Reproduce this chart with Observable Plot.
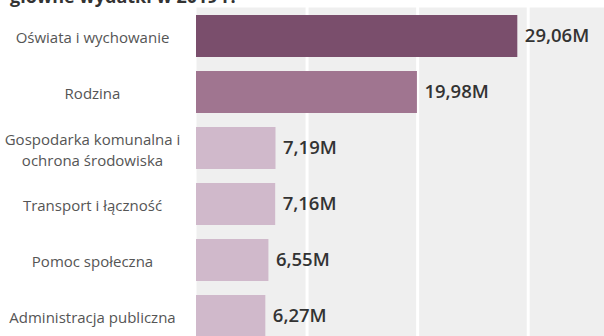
<!DOCTYPE html>
<html>
<head>
<meta charset="utf-8">
<script src="https://cdn.jsdelivr.net/npm/d3@7"></script>
<script src="https://cdn.jsdelivr.net/npm/@observablehq/plot@0.6"></script>
<style>
  html, body { margin: 0; padding: 0; background: #fff; overflow: hidden; width: 604px; height: 336px; }
  #wrap { position: relative; width: 604px; height: 336px; }
  #title { position: absolute; left: 10px; top: -13px; font-family: "Open Sans", sans-serif; font-weight: 700; font-size: 18px; line-height: 18px; color: #333; white-space: nowrap; }
  #chart { position: absolute; left: 0; top: 0; }
</style>
</head>
<body>
<div id="wrap">
  <div id="chart"></div>
  <div id="title">główne wydatki w 2019 r.</div>
</div>
<script>
const categories = [
  "Oświata i wychowanie",
  "Rodzina",
  "Gospodarka komunalna i\nochrona środowiska",
  "Transport i łączność",
  "Pomoc społeczna",
  "Administracja publiczna"
];
const values = [29.06, 19.98, 7.19, 7.16, 6.55, 6.27];
const barColors = ["#7a4e6c", "#a07590", "#d0b9cb", "#d0b9cb", "#d0b9cb", "#d0b9cb"];
const gridTicks = [10, 20, 30];

const data = categories.map((c, i) => ({category: c, value: values[i], color: barColors[i]}));
const fmt = v => v.toFixed(2).replace(".", ",") + "M";

const chart = Plot.plot({
  width: 604,
  height: 345,
  marginTop: 7,
  marginBottom: 0,
  marginLeft: 196,
  marginRight: 0,
  style: {fontFamily: "Open Sans, sans-serif", background: "transparent"},
  x: {domain: [0, 36.9], axis: null},
  y: {domain: categories, paddingInner: 0.25, paddingOuter: 0.125, label: null},
  marks: [
    Plot.frame({fill: "#efefef", stroke: null}),
    Plot.ruleX(gridTicks, {stroke: "#ffffff", strokeWidth: 3}),
    Plot.barX(data, {y: "category", x: "value", fill: "color"}),
    Plot.text(data, {
      y: "category", x: "value", text: d => fmt(d.value),
      textAnchor: "start", dx: 7, fontSize: 18.5, fontWeight: 600, fill: "#333"
    }),
    Plot.axisY({
      tickSize: 0, textAnchor: "middle", dx: -95, fontSize: 15,
      lineHeight: 1.4, fill: "#555", label: null
    })
  ]
});
document.getElementById("chart").appendChild(chart);
</script>
</body>
</html>
